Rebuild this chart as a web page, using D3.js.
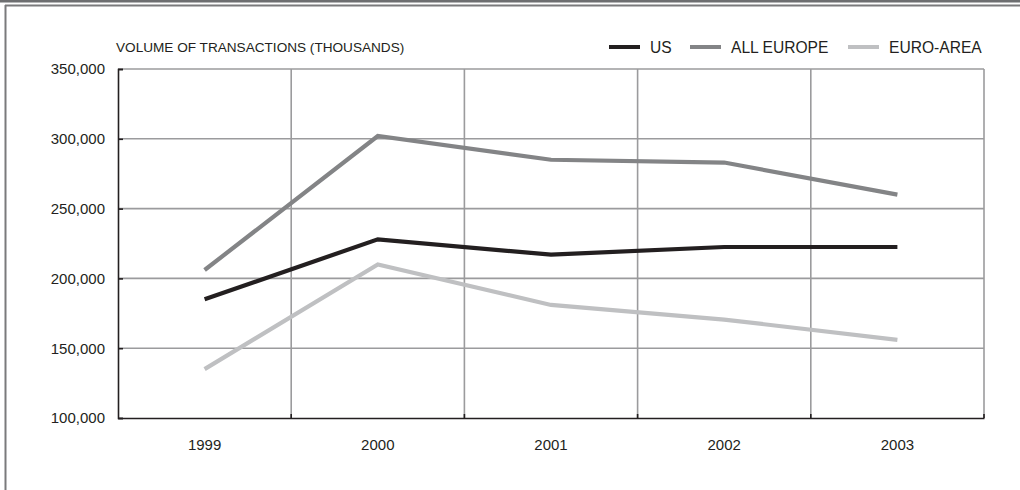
<!DOCTYPE html>
<html>
<head>
<meta charset="utf-8">
<script src="https://cdn.jsdelivr.net/npm/d3@7/dist/d3.min.js"></script>
<style>
  html, body { margin: 0; padding: 0; background: #fff; }
  svg { display: block; font-family: "Liberation Sans", Arial, Helvetica, sans-serif; }
</style>
</head>
<body>
<svg id="chart" width="1020" height="490"></svg>
<script>
// Annual volume of transactions, thousands
const years = ["1999", "2000", "2001", "2002", "2003"];
const usValues = [185000, 228000, 217000, 222500, 222500];
const allEuropeValues = [206000, 302000, 285000, 283000, 260000];
const euroAreaValues = [135000, 210000, 181000, 170500, 156000];
const seriesNames = ["US", "ALL EUROPE", "EURO-AREA"];
const seriesColors = ["#231f20", "#838486", "#bfc0c2"];
const yTicks = [100000, 150000, 200000, 250000, 300000, 350000];
const yTitle = "VOLUME OF TRANSACTIONS (THOUSANDS)";

const series = [usValues, allEuropeValues, euroAreaValues].map((values, i) => ({
  name: seriesNames[i],
  color: seriesColors[i],
  values
}));

const svg = d3.select("#chart");
const margin = { left: 118, right: 984, top: 69, bottom: 418 };
const textColor = "#231f20";

// Page frame
svg.append("rect").attr("x", 0).attr("y", 0).attr("width", 1020).attr("height", 2.5).attr("fill", "#6d6e70");
svg.append("line").attr("x1", 5).attr("x2", 1020).attr("y1", 5.5).attr("y2", 5.5)
  .attr("stroke", "#7a7a7c").attr("stroke-width", 2);
svg.append("line").attr("x1", 5.5).attr("x2", 5.5).attr("y1", 5).attr("y2", 490)
  .attr("stroke", "#7a7a7c").attr("stroke-width", 2);

const x = d3.scaleBand().domain(years).range([margin.left, margin.right]).padding(0);
const y = d3.scaleLinear().domain([100000, 350000]).range([margin.bottom, margin.top]);

const gridColor = "#9b9b9d";
const grid = svg.append("g");
// Horizontal gridlines
grid.selectAll("line.h").data(yTicks.slice(1)).join("line")
  .attr("x1", margin.left).attr("x2", margin.right)
  .attr("y1", d => y(d)).attr("y2", d => y(d))
  .attr("stroke", gridColor).attr("stroke-width", 1.6);
// Vertical gridlines at band boundaries
const bounds = years.map(d => x(d)).concat([margin.right]).slice(1);
grid.selectAll("line.v").data(bounds).join("line")
  .attr("x1", d => d).attr("x2", d => d)
  .attr("y1", margin.top).attr("y2", margin.bottom)
  .attr("stroke", gridColor).attr("stroke-width", 1.6);

// Axes
const yAxis = svg.append("g")
  .attr("transform", `translate(${margin.left},0)`)
  .call(d3.axisLeft(y).tickValues(yTicks).tickSize(-5).tickPadding(13)
    .tickFormat(d3.format(",")));
yAxis.select(".domain").attr("stroke", textColor).attr("stroke-width", 1.6);
yAxis.selectAll(".tick line").attr("stroke", textColor).attr("stroke-width", 1.6);
yAxis.selectAll("text").attr("font-size", 15).attr("fill", textColor)
  .attr("font-family", "Liberation Sans, Arial, sans-serif");

const xAxis = svg.append("g")
  .attr("transform", `translate(0,${margin.bottom})`)
  .call(d3.axisBottom(x).tickSize(0).tickPadding(21));
xAxis.select(".domain").attr("stroke", textColor).attr("stroke-width", 1.6);
xAxis.selectAll("text").attr("font-size", 15).attr("fill", textColor)
  .attr("font-family", "Liberation Sans, Arial, sans-serif");
// Short dark ticks at band boundaries on the baseline
svg.append("g").selectAll("line").data(bounds).join("line")
  .attr("x1", d => d).attr("x2", d => d)
  .attr("y1", margin.bottom).attr("y2", margin.bottom - 4)
  .attr("stroke", textColor).attr("stroke-width", 1.6);

// Series lines
const line = d3.line()
  .x((d, i) => x(years[i]) + x.bandwidth() / 2)
  .y(d => y(d));
svg.append("g").selectAll("path").data(series).join("path")
  .attr("d", d => line(d.values))
  .attr("fill", "none")
  .attr("stroke", d => d.color)
  .attr("stroke-width", 4.2);

// Axis title
svg.append("text")
  .attr("x", 116).attr("y", 52)
  .attr("font-size", 13.6).attr("fill", textColor)
  .text(yTitle);

// Legend
const legendX = [609, 690, 848];
const legend = svg.append("g").selectAll("g").data(series).join("g")
  .attr("transform", (d, i) => `translate(${legendX[i]},47)`);
legend.append("line").attr("x1", 0).attr("x2", 31).attr("y1", 0).attr("y2", 0)
  .attr("stroke", d => d.color).attr("stroke-width", 4);
legend.append("text").attr("x", 41).attr("y", 5.5)
  .attr("font-size", 15.6).attr("fill", textColor)
  .text(d => d.name);
</script>
</body>
</html>
